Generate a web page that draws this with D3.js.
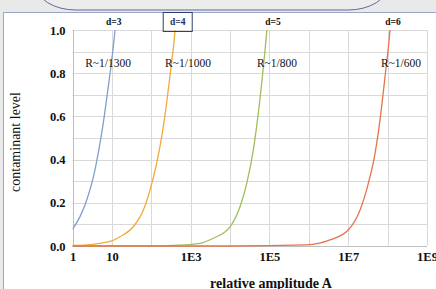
<!DOCTYPE html>
<html>
<head>
<meta charset="utf-8">
<script src="https://cdn.jsdelivr.net/npm/d3@7"></script>
<style>
  html, body { margin: 0; padding: 0; background: #e9e9e9; }
  svg { display: block; }
</style>
</head>
<body>
<div id="chart"></div>
<script>
// 读图得到的数据 [相对振幅 A, 污染水平]
const seriesD3 = [[1, 0.077], [1.55, 0.136], [2.3, 0.213], [3.4, 0.32], [4.5, 0.43], [6.0, 0.565], [8.1, 0.738], [9.9, 0.86], [12, 1.0], [13.5, 1.12]];
const seriesD4 = [[1, 0.0025], [3.4, 0.008], [5, 0.0125], [10, 0.024], [16, 0.043], [35, 0.089], [52, 0.136], [63, 0.167], [93, 0.259], [137, 0.383], [184, 0.506], [245, 0.66], [311, 0.815], [398, 0.99], [440, 1.1]];
const seriesD5 = [[1, 0], [100, 0.001], [537, 0.004], [1730, 0.0125], [3760, 0.036], [10000, 0.089], [17900, 0.182], [26500, 0.29], [38900, 0.444], [52100, 0.614], [67500, 0.8], [86000, 1.0], [97000, 1.12]];
const seriesD6 = [[1, 0], [10000, 0.0001], [880000, 0.005], [3440000, 0.028], [1e7, 0.074], [2e7, 0.167], [3.24e7, 0.29], [4.8e7, 0.429], [6.4e7, 0.583], [8.6e7, 0.784], [1.15e8, 1.0], [1.3e8, 1.13]];

const seriesNames = ["d=3", "d=4", "d=5", "d=6"];
const seriesColors = ["#829fcc", "#efaa3a", "#9fbe5c", "#e6744c"];
const ratioLabels = ["R~1/1300", "R~1/1000", "R~1/800", "R~1/600"];
// 标签所在的 A 值（横向位置）
const nameAt = [11.1, 469, 123000, 1.37e8];
const ratioAt = [8, 855, 155000, 2.19e8];

const xTickValues = [1, 10, 1e3, 1e5, 1e7, 1e9];
const xTickLabels = ["1", "10", "1E3", "1E5", "1E7", "1E9"];
const yTickValues = [0, 0.2, 0.4, 0.6, 0.8, 1.0];

const W = 436, H = 289;
const serif = "'Liberation Serif', 'DejaVu Serif', serif";

const svg = d3.select("#chart").append("svg")
    .attr("width", W)
    .attr("height", H);

// 顶部圆角框（被裁掉一部分）
svg.append("rect")
    .attr("x", 36).attr("y", -40)
    .attr("width", 352).attr("height", 50)
    .attr("rx", 40).attr("ry", 30)
    .attr("fill", "#ececec")
    .attr("stroke", "#5b6c9c")
    .attr("stroke-width", 1);

// 白色面板
svg.append("rect")
    .attr("x", 3.5).attr("y", 12.5)
    .attr("width", W + 10).attr("height", H)
    .attr("fill", "#ffffff")
    .attr("stroke", "#9aa6c4")
    .attr("stroke-width", 1);

const x = d3.scaleLog().domain([1, 1e9]).range([72.5, 427]);
const y = d3.scaleLinear().domain([0, 1]).range([246, 30]);

// 网格
const grid = svg.append("g").attr("stroke", "#d9d9d9").attr("stroke-width", 1);
d3.range(0, 10).forEach(p => {
    const gx = Math.round(x(Math.pow(10, p))) + 0.5;
    grid.append("line").attr("x1", gx).attr("x2", gx).attr("y1", y(1)).attr("y2", y(0));
});
d3.range(0, 11).forEach(i => {
    const gy = Math.round(y(i / 10)) + 0.5;
    grid.append("line").attr("x1", x(1)).attr("x2", x(1e9)).attr("y1", gy).attr("y2", gy);
});

// 坐标轴线
svg.append("line")
    .attr("x1", x(1)).attr("x2", x(1e9))
    .attr("y1", Math.round(y(0)) + 0.5).attr("y2", Math.round(y(0)) + 0.5)
    .attr("stroke", "#bfbfbf");
svg.append("line")
    .attr("x1", Math.round(x(1)) + 0.5).attr("x2", Math.round(x(1)) + 0.5)
    .attr("y1", y(1)).attr("y2", y(0))
    .attr("stroke", "#bfbfbf");

// 刻度标签
const xAxis = d3.axisBottom(x)
    .tickValues(xTickValues)
    .tickFormat((d, i) => xTickLabels[i])
    .tickSize(0)
    .tickPadding(6);
const gx = svg.append("g").attr("transform", `translate(0,${y(0)})`).call(xAxis);
gx.select(".domain").remove();
gx.selectAll("text")
    .attr("font-family", serif)
    .attr("font-size", 12.5)
    .attr("font-weight", "bold")
    .attr("fill", "#111");

const yAxis = d3.axisLeft(y)
    .tickValues(yTickValues)
    .tickFormat(d3.format(".1f"))
    .tickSize(0)
    .tickPadding(7);
const gy = svg.append("g").attr("transform", `translate(${x(1)},0)`).call(yAxis);
gy.select(".domain").remove();
gy.selectAll("text")
    .attr("font-family", serif)
    .attr("font-size", 12.5)
    .attr("font-weight", "bold")
    .attr("fill", "#111");

// 曲线
svg.append("clipPath").attr("id", "plot-clip")
    .append("rect")
    .attr("x", x(1)).attr("y", y(1))
    .attr("width", x(1e9) - x(1)).attr("height", y(0) - y(1) + 1);

const line = d3.line()
    .x(d => x(d[0]))
    .y(d => y(d[1]))
    .curve(d3.curveMonotoneX);

const allSeries = [seriesD3, seriesD4, seriesD5, seriesD6];
svg.append("g").attr("clip-path", "url(#plot-clip)")
    .selectAll("path")
    .data(allSeries)
    .enter()
    .append("path")
    .attr("d", line)
    .attr("fill", "none")
    .attr("stroke", (d, i) => seriesColors[i])
    .attr("stroke-width", 1.3);

// d=? 标签
seriesNames.forEach((name, i) => {
    svg.append("text")
        .attr("x", x(nameAt[i]))
        .attr("y", 25)
        .attr("text-anchor", "middle")
        .attr("font-family", serif)
        .attr("font-size", 9.5)
        .attr("font-weight", "bold")
        .attr("fill", i === 1 ? "#1f2f5a" : "#111")
        .text(name);
    if (i === 1) {
        svg.append("rect")
            .attr("x", x(nameAt[i]) - 14.5).attr("y", 12.5)
            .attr("width", 29).attr("height", 19)
            .attr("fill", "none")
            .attr("stroke", "#2e3f70")
            .attr("stroke-width", 1);
    }
});

// R 标签
ratioLabels.forEach((lab, i) => {
    svg.append("text")
        .attr("x", x(ratioAt[i]))
        .attr("y", 67)
        .attr("text-anchor", "middle")
        .attr("font-family", serif)
        .attr("font-size", 11.5)
        .attr("fill", "#111")
        .text(lab);
});

// 轴标题
svg.append("text")
    .attr("x", 271)
    .attr("y", 288)
    .attr("text-anchor", "middle")
    .attr("font-family", serif)
    .attr("font-size", 14)
    .attr("font-weight", "bold")
    .attr("fill", "#111")
    .text("relative amplitude A");

svg.append("text")
    .attr("transform", "translate(20,142) rotate(-90)")
    .attr("text-anchor", "middle")
    .attr("font-family", serif)
    .attr("font-size", 14)
    .attr("fill", "#111")
    .text("contaminant level");
</script>
</body>
</html>
